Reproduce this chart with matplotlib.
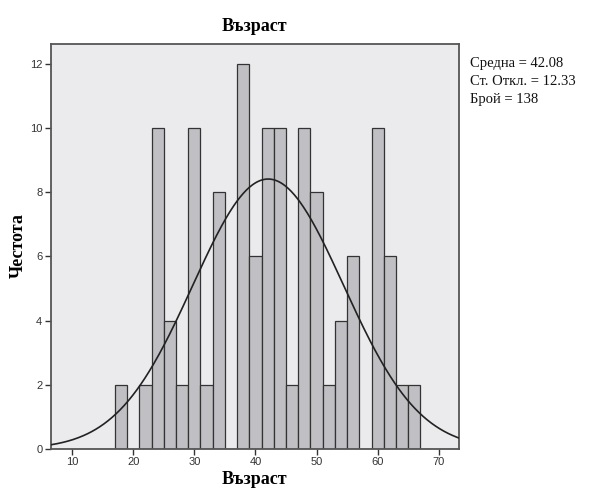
import numpy as np
import matplotlib.pyplot as plt

# данни, отчетени от хистограмата (ширина на интервала = 2 години)
bin_starts = [17, 19, 21, 23, 25, 27, 29, 31, 33, 35, 37, 39, 41, 43,
              45, 47, 49, 51, 53, 55, 57, 59, 61, 63, 65]
counts = [2, 0, 2, 10, 4, 2, 10, 2, 8, 0, 12, 6, 10, 10,
          2, 10, 8, 2, 4, 6, 0, 10, 6, 2, 2]
bin_width = 2
mean_age = 42.08
sd_age = 12.33
n_total = 138

serif = ["Liberation Serif", "DejaVu Serif"]
sans = ["Liberation Sans", "DejaVu Sans"]

fig = plt.figure(figsize=(5.95, 4.95), dpi=100)
ax = fig.add_axes([50.7 / 595, 1 - 449 / 495, (459 - 50.7) / 595, (449 - 44) / 495])
ax.set_facecolor("#ebebed")

ax.bar(bin_starts, counts, width=bin_width, align="edge",
       color="#c0c0c4", edgecolor="#333333", linewidth=0.9, zorder=2)

# нормална крива по средната и откл.
xs = np.linspace(6.5, 73.3, 400)
area = sum(counts) * bin_width
ys = area / (sd_age * np.sqrt(2 * np.pi)) * np.exp(-0.5 * ((xs - mean_age) / sd_age) ** 2)
ax.plot(xs, ys, color="#222222", linewidth=1.2, zorder=3)

ax.set_xlim(6.5, 73.3)
ax.set_ylim(0, 12.62)
ax.set_xticks([10, 20, 30, 40, 50, 60, 70])
ax.set_yticks([0, 2, 4, 6, 8, 10, 12])
ax.tick_params(direction="out", length=4, width=1, colors="#333333",
               labelsize=8, labelcolor="#333333", pad=2)
for lab in ax.get_xticklabels() + ax.get_yticklabels():
    lab.set_family(sans)
for sp in ax.spines.values():
    sp.set_color("#555555")
    sp.set_linewidth(1.3)

ax.set_title("Възраст", family=serif, fontweight="bold", fontsize=13, pad=9)
ax.set_xlabel("Възраст", family=serif, fontweight="bold", fontsize=13, labelpad=3)
fig.text(18 / 595, 1 - 246 / 495, "Честота", family=serif, fontweight="bold",
         fontsize=13, rotation=90, ha="center", va="center")

stats = [f"Средна = {mean_age:.2f}", f"Ст. Откл. = {sd_age:.2f}", f"Брой = {n_total}"]
for i, s in enumerate(stats):
    fig.text(470 / 595, 1 - (64 + i * 17.5) / 495, s, family=serif, fontsize=10.5,
             color="#111111", va="center", ha="left")

fig.savefig("out.png", dpi=100)
